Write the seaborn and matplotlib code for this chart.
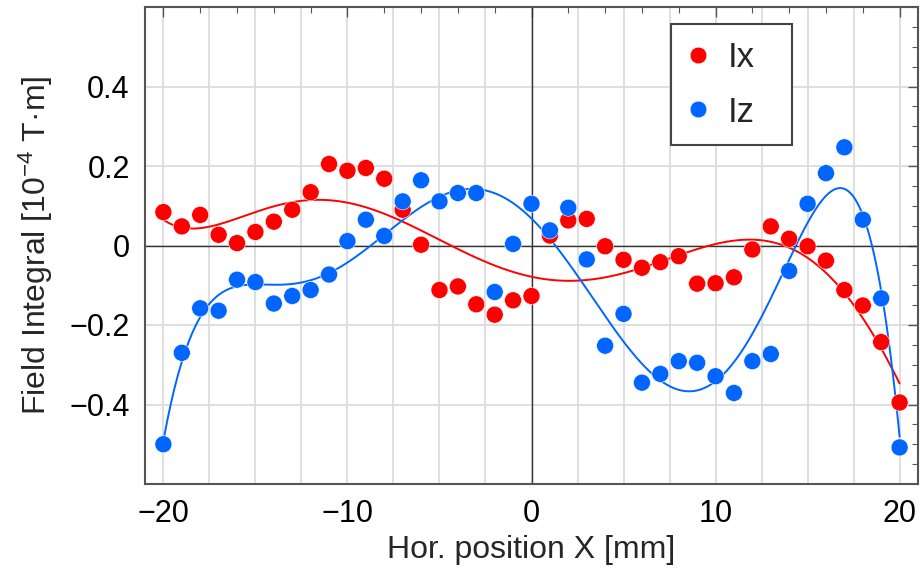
import numpy as np
import pandas as pd
import matplotlib
matplotlib.use("Agg")
import matplotlib.pyplot as plt
import seaborn as sns
from matplotlib.ticker import MultipleLocator, FixedLocator, FuncFormatter
from matplotlib.patches import Rectangle
from matplotlib.lines import Line2D

# ---- data ----
positions = list(range(-20, 21))
ix_values = [0.084, 0.048, 0.077, 0.027, 0.006, 0.034, 0.060, 0.090, 0.134, 0.205,
             0.188, 0.195, 0.168, 0.090, 0.002, -0.112, -0.103, -0.148, -0.174, -0.138,
             -0.127, 0.025, 0.063, 0.067, -0.002, -0.036, -0.056, -0.042, -0.027, -0.096,
             -0.095, -0.080, -0.010, 0.048, 0.017, -0.002, -0.038, -0.112, -0.151, -0.243,
             -0.395]
iz_values = [-0.500, -0.270, -0.158, -0.164, -0.086, -0.092, -0.146, -0.127, -0.112, -0.073,
             0.011, 0.065, 0.024, 0.111, 0.164, 0.111, 0.132, 0.132, -0.117, 0.004,
             0.105, 0.038, 0.095, -0.035, -0.252, -0.172, -0.345, -0.323, -0.291, -0.295,
             -0.329, -0.371, -0.291, -0.273, -0.064, 0.105, 0.182, 0.247, 0.065, -0.133,
             -0.508]
series_names = ["Ix", "Iz"]
fit_degrees = {"Ix": 6, "Iz": 6}
colors = {"Ix": "#ff0000", "Iz": "#0066ff"}

y_tick_values = [-0.4, -0.2, 0.0, 0.2, 0.4]
x_tick_values = [-20, -10, 0, 10, 20]

df = pd.DataFrame({
    "x": positions * 2,
    "value": ix_values + iz_values,
    "series": ["Ix"] * len(positions) + ["Iz"] * len(positions),
})

sns.set_theme(style="white")
plt.rcParams["font.family"] = ["Liberation Sans", "DejaVu Sans"]
plt.rcParams["mathtext.fontset"] = "custom"
plt.rcParams["mathtext.rm"] = "Liberation Sans"
plt.rcParams["mathtext.it"] = "Liberation Sans"
plt.rcParams["axes.unicode_minus"] = True

W, H = 921, 577
fig = plt.figure(figsize=(W / 100, H / 100), dpi=100)
L, R, T, B = 145, 918, 7, 484
ax = fig.add_axes([L / W, (H - B) / H, (R - L) / W, (B - T) / H])

ax.set_xlim(-21, 21)
ax.set_ylim(-0.6, 0.6)

# grid
for gx in np.arange(-20, 20.1, 2.5):
    ax.axvline(gx, color="#dcdcdc", lw=1.3, zorder=0)
for gy in y_tick_values:
    ax.axhline(gy, color="#dcdcdc", lw=1.3, zorder=0)
ax.axhline(0, color="#333333", lw=1.0, zorder=1)
ax.axvline(0, color="#333333", lw=1.0, zorder=1)

# fitted curves (least-squares polynomial fits of the data)
xx = np.linspace(-20, 20, 400)
for name, vals in zip(series_names, [ix_values, iz_values]):
    coef = np.polyfit(positions, vals, fit_degrees[name])
    sns.lineplot(x=xx, y=np.polyval(coef, xx), ax=ax, color=colors[name], lw=1.4,
                 zorder=2, legend=False)

sns.scatterplot(data=df, x="x", y="value", hue="series", palette=colors, s=150,
                edgecolor="white", linewidth=0.4, ax=ax, zorder=3, legend=False)

# ticks
ax.xaxis.set_major_locator(FixedLocator(x_tick_values))
ax.xaxis.set_minor_locator(MultipleLocator(2))
ax.yaxis.set_major_locator(FixedLocator(y_tick_values))
ax.yaxis.set_minor_locator(MultipleLocator(0.05))

def yfmt(v, pos):
    if abs(v) < 1e-9:
        return "0"
    return ("%.1f" % v).replace("-", "\u2212")

ax.yaxis.set_major_formatter(FuncFormatter(yfmt))
ax.tick_params(which="both", direction="in", top=True, right=True, colors="#555555",
               labelcolor="black", labelsize=22)
ax.tick_params(which="major", length=7, width=1.0, pad=11)
ax.tick_params(which="minor", length=4, width=0.8)

for sp in ax.spines.values():
    sp.set_color("#555555")
    sp.set_linewidth(1.5)

ax.set_xlabel("Hor. position X [mm]", fontsize=23, labelpad=4)
ax.set_ylabel("Field Integral [10$^{-4}$ T\u00b7m]", fontsize=23, labelpad=10)

# legend
handles = [Line2D([], [], linestyle="none", marker="o", markersize=12,
                  markerfacecolor=colors[n], markeredgecolor="white",
                  markeredgewidth=0.4) for n in series_names]
leg = ax.legend(handles, series_names, frameon=False, loc="upper left",
                bbox_to_anchor=((686 - L) / (R - L), (B - 41) / (B - T)),
                borderaxespad=0, borderpad=0, fontsize=25, handlelength=0.7,
                handletextpad=0.5, labelspacing=0.62)
box = Rectangle(((671 - L) / (R - L), (B - 145) / (B - T)), 121 / (R - L), 121 / (B - T),
                transform=ax.transAxes, facecolor="white", edgecolor="#444444", lw=1.5,
                zorder=4)
ax.add_patch(box)
leg.set_zorder(5)

fig.savefig("out.png", dpi=100)
